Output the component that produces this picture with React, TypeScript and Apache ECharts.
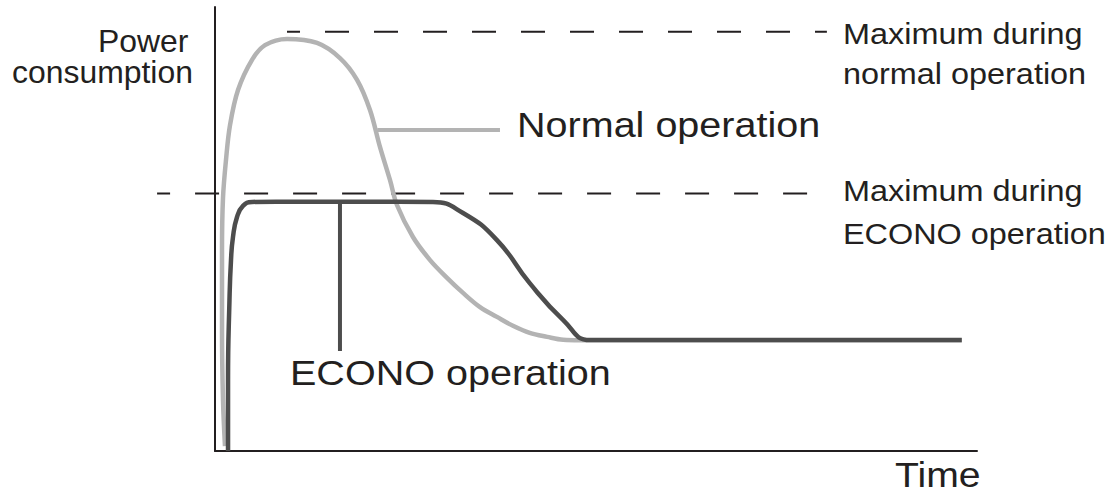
import React, { useEffect, useRef } from "react";
import * as echarts from "echarts";

// Curves (x: time 0..100, y: power 0..100)
const normalCurve: [number, number][] = [
  [1.31, 1.1], [1.05, 11.5], [0.92, 27.3], [0.92, 45.3], [1.05, 57.0], [1.44, 65.5],
  [1.97, 73.4], [3.02, 81.3], [4.86, 88.1], [6.56, 91.4], [9.45, 92.8], [13.39, 91.9],
  [16.4, 88.5], [18.64, 83.6], [20.34, 76.8], [21.65, 68.5], [22.97, 61.0], [23.88, 55.4],
  [25.98, 48.2], [28.22, 43.0], [30.45, 39.0], [32.55, 35.6], [34.78, 32.4], [37.0, 30.2],
  [39.1, 28.2], [41.3, 26.6], [43.6, 25.7], [45.7, 25.05], [47.9, 24.95], [49.2, 24.95],
  [70.2, 24.95], [98.0, 24.95],
];

const econoCurve: [number, number][] = [
  [1.71, 0], [1.71, 16.0], [1.9, 34.0], [2.1, 43.0], [2.36, 48.2], [2.89, 52.7],
  [3.67, 55.2], [4.86, 56.1], [8.0, 56.15], [16.0, 56.15], [24.0, 56.15], [28.6, 56.1],
  [32.55, 53.6], [37.0, 47.5], [41.3, 37.8], [45.7, 29.5], [49.2, 25.0],
  [56.0, 25.0], [70.2, 25.0], [98.0, 25.0],
];

const normalMaxLine: [number, number][] = [[9.45, 94.4], [80.3, 94.4]];
const econoMaxLine: [number, number][] = [[-7.6, 58.0], [80.3, 58.0]];
const normalLeader: [number, number][] = [[21.3, 72.3], [37.4, 72.3]];
const econoLeader: [number, number][] = [[16.4, 56.15], [16.4, 22.5]];

const yTitleLines = ["Power", "consumption"];
const xTitle = "Time";
const normalMaxLabel = ["Maximum during", "normal operation"];
const econoMaxLabel = ["Maximum during", "ECONO operation"];
const normalLabel = "Normal operation";
const econoLabel = "ECONO operation";

const FONT = "'Liberation Sans', Arial, Helvetica, sans-serif";
const TEXT = "#231f20";
const LIGHT = "#b3b3b3";
const DARK = "#4d4d4d";

function txt(text: string, x: number, baseline: number, fs: number, sx: number) {
  return {
    type: "text",
    x,
    y: baseline - 0.3465 * fs,
    scaleX: sx,
    silent: true,
    style: {
      text,
      fill: TEXT,
      fontSize: fs,
      fontFamily: FONT,
      align: "left",
      verticalAlign: "middle",
    },
  };
}

export default function App() {
  const ref = useRef<HTMLDivElement>(null);
  useEffect(() => {
    if (!ref.current) return;
    const chart = echarts.init(ref.current, undefined, { renderer: "svg" });
    const axisCommon = {
      type: "value",
      min: 0,
      max: 100,
      axisLine: { show: true, onZero: false, lineStyle: { color: TEXT, width: 2 } },
      axisTick: { show: false },
      axisLabel: { show: false },
      splitLine: { show: false },
    };
    const hiddenAxis = {
      type: "value",
      show: false,
      max: 100,
      splitLine: { show: false },
    };
    const pxPerUnit = (1117 - 215 - 140) / 100;
    chart.setOption({
      animation: false,
      backgroundColor: "#ffffff",
      grid: [
        { left: 215, right: 140, top: 7, bottom: 44 },
        { left: 215 - 10 * pxPerUnit, right: 140, top: 7, bottom: 44 },
      ],
      xAxis: [
        { ...axisCommon, gridIndex: 0 },
        { ...hiddenAxis, min: -10, gridIndex: 1 },
      ],
      yAxis: [
        { ...axisCommon, gridIndex: 0 },
        { ...hiddenAxis, min: 0, gridIndex: 1 },
      ],
      series: [
        {
          type: "line",
          xAxisIndex: 1,
          yAxisIndex: 1,
          data: normalMaxLine,
          symbol: "none",
          clip: false,
          lineStyle: { color: TEXT, width: 2, type: [24, 25], dashOffset: 11 },
          z: 1,
        },
        {
          type: "line",
          xAxisIndex: 1,
          yAxisIndex: 1,
          data: econoMaxLine,
          symbol: "none",
          clip: false,
          lineStyle: { color: TEXT, width: 2, type: [24, 25], dashOffset: 11 },
          z: 1,
        },
        {
          type: "line",
          data: normalCurve,
          symbol: "none",
          smooth: 0.35,
          clip: false,
          lineStyle: { color: LIGHT, width: 4.5 },
          z: 2,
        },
        {
          type: "line",
          data: normalLeader,
          symbol: "none",
          lineStyle: { color: LIGHT, width: 4 },
          z: 2,
        },
        {
          type: "line",
          data: econoCurve,
          symbol: "none",
          smooth: 0.5,
          clip: false,
          lineStyle: { color: DARK, width: 4.5 },
          z: 3,
        },
        {
          type: "line",
          data: econoLeader,
          symbol: "none",
          lineStyle: { color: DARK, width: 4 },
          z: 3,
        },
      ],
      graphic: [
        txt(yTitleLines[0], 98, 52, 31, 1.03),
        txt(yTitleLines[1], 12, 83, 31, 1.03),
        txt(normalMaxLabel[0], 843, 44, 30, 1.08),
        txt(normalMaxLabel[1], 843, 84, 30, 1.08),
        txt(econoMaxLabel[0], 843, 201, 30, 1.08),
        txt(econoMaxLabel[1], 843, 244, 30, 1.08),
        txt(normalLabel, 517, 137, 35, 1.13),
        txt(econoLabel, 290, 385, 35, 1.13),
        txt(xTitle, 895, 487, 35, 1.12),
      ],
    });
    return () => chart.dispose();
  }, []);
  return (
    <div
      ref={ref}
      style={{ position: "absolute", left: 0, top: 0, width: 1117, height: 495 }}
    />
  );
}
